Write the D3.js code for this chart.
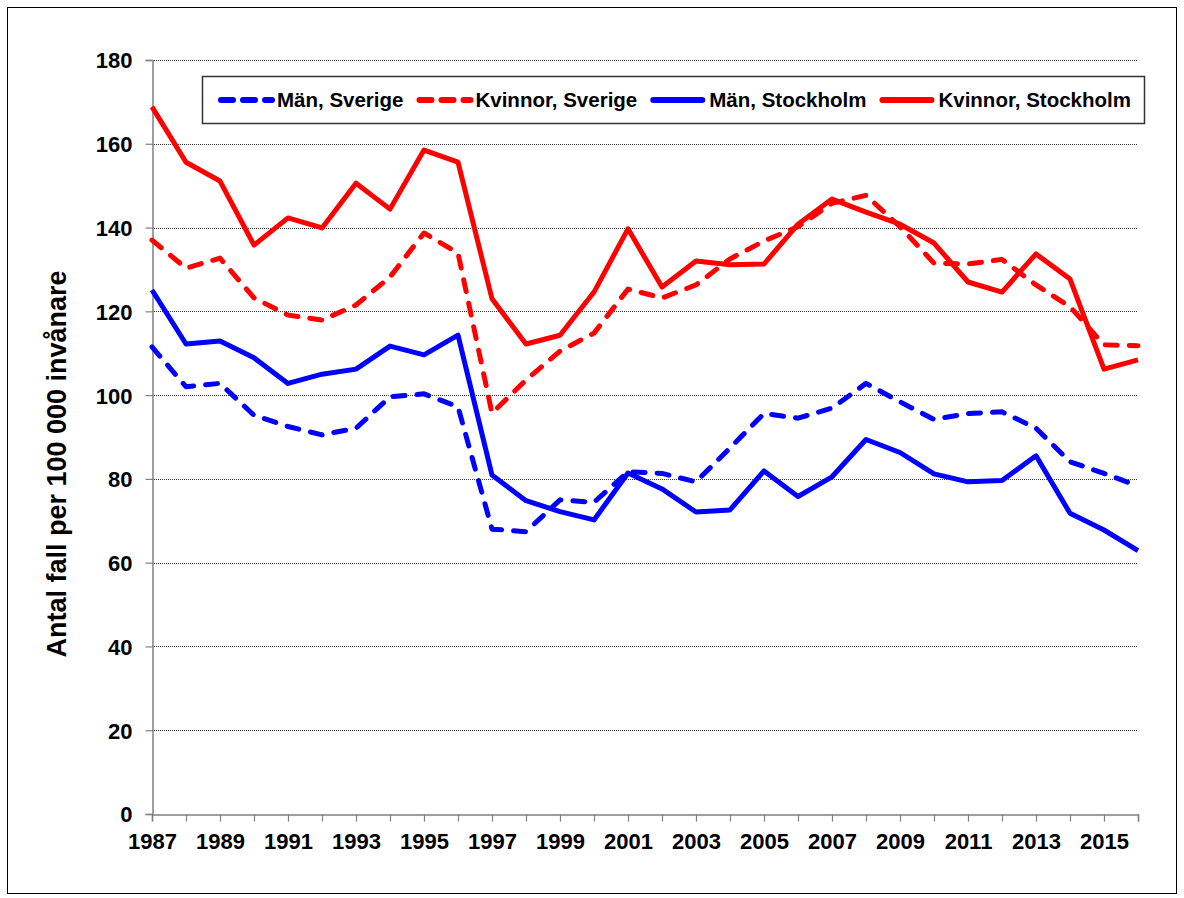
<!DOCTYPE html>
<html>
<head>
<meta charset="utf-8">
<script src="https://cdn.jsdelivr.net/npm/d3@7"></script>
<style>
  body { margin: 0; background: #fff; }
  svg { display: block; font-family: "Liberation Sans", Arial, sans-serif; font-weight: bold; }
</style>
</head>
<body>
<svg id="chart"></svg>
<script>
// Years on the x axis
const years = d3.range(1987, 2017);

// Values per 100 000 inhabitants
const manSverige = [111.5, 102.0, 102.8, 95.2, 92.5, 90.5, 92.1, 99.6, 100.3, 97.2,
  68.0, 67.4, 75.0, 74.4, 81.7, 81.3, 79.3, 87.4, 95.6, 94.5,
  96.9, 102.8, 98.4, 94.2, 95.6, 96.0, 92.1, 84.1, 81.3, 78.3];
const kvinnorSverige = [137.0, 130.3, 132.7, 123.2, 119.1, 117.9, 121.5, 128.2, 138.7, 133.9,
  95.7, 103.6, 110.5, 114.8, 125.3, 123.2, 126.3, 132.5, 136.8, 140.2,
  145.8, 147.7, 140.2, 131.5, 131.3, 132.4, 126.3, 121.1, 112.0, 111.8];
const manStockholm = [125.1, 112.2, 112.9, 108.9, 102.8, 105.0, 106.2, 111.7, 109.6, 114.3,
  80.9, 74.8, 72.2, 70.2, 81.4, 77.6, 72.1, 72.6, 81.9, 75.8,
  80.5, 89.4, 86.3, 81.2, 79.3, 79.6, 85.5, 71.8, 67.8, 62.9];
const kvinnorStockholm = [168.8, 155.6, 151.1, 135.8, 142.3, 139.9, 150.6, 144.4, 158.5, 155.6,
  123.0, 112.2, 114.3, 124.6, 139.7, 125.8, 132.0, 131.1, 131.3, 140.8,
  146.8, 143.7, 140.8, 136.3, 127.0, 124.6, 133.7, 127.7, 106.2, 108.4];

const seriesNames = ["Män, Sverige", "Kvinnor, Sverige", "Män, Stockholm", "Kvinnor, Stockholm"];
const yTicks = d3.range(0, 181, 20);
const yTitle = "Antal fall per 100 000 invånare";

const series = [
  { name: seriesNames[0], values: manSverige, color: "#0000ff", dashed: true },
  { name: seriesNames[1], values: kvinnorSverige, color: "#ff0000", dashed: true },
  { name: seriesNames[2], values: manStockholm, color: "#0000ff", dashed: false },
  { name: seriesNames[3], values: kvinnorStockholm, color: "#ff0000", dashed: false }
];

const width = 1184, height = 898;
const margin = { top: 60, right: 46, bottom: 84, left: 152 };

var svg = d3.select("#chart")
  .attr("width", width)
  .attr("height", height)
  .attr("viewBox", [0, 0, width, height]);

// outer frame
svg.append("rect")
  .attr("x", 7.5).attr("y", 7.5)
  .attr("width", 1169).attr("height", 886)
  .attr("fill", "#fff")
  .attr("stroke", "#000");

const x = d3.scalePoint()
  .domain(years)
  .range([margin.left, width - margin.right]);

const y = d3.scaleLinear()
  .domain([0, 180])
  .range([height - margin.bottom, margin.top]);

// dotted gridlines
svg.append("g")
  .selectAll("line")
  .data(yTicks.slice(1))
  .enter().append("line")
    .attr("x1", margin.left)
    .attr("x2", width - margin.right)
    .attr("y1", d => Math.round(y(d)) + 0.5)
    .attr("y2", d => Math.round(y(d)) + 0.5)
    .attr("stroke", "#333")
    .attr("stroke-dasharray", "1,1");

// y axis
const yAxis = svg.append("g")
  .attr("transform", `translate(${margin.left + 0.5},0)`)
  .call(d3.axisLeft(y).tickValues(yTicks).tickSize(7).tickPadding(13));

// x axis
const xAxis = svg.append("g")
  .attr("transform", `translate(0,${Math.round(y(0)) + 0.5})`)
  .call(d3.axisBottom(x).tickSize(7).tickPadding(12)
    .tickFormat(d => (d - 1987) % 2 === 0 ? d : ""));

[yAxis, xAxis].forEach(a => {
  a.select(".domain").attr("stroke", "#808080").attr("stroke-width", 1.5);
  a.selectAll(".tick line").attr("stroke", "#808080").attr("stroke-width", 1.2);
  a.selectAll("text")
    .attr("fill", "#000")
    .style("font", "bold 22px 'Liberation Sans', Arial, sans-serif");
});
yAxis.selectAll("text").attr("dy", "0.36em");
xAxis.selectAll("text").attr("dy", "0.72em");

// y axis title
svg.append("text")
  .attr("transform", "translate(66,464) rotate(-90)")
  .attr("text-anchor", "middle")
  .style("font-size", "27px")
  .text(yTitle);

// lines
const line = d3.line()
  .x((d, i) => x(years[i]))
  .y(d => y(d));

svg.append("g")
  .selectAll("path")
  .data(series)
  .enter().append("path")
    .attr("d", d => line(d.values))
    .attr("fill", "none")
    .attr("stroke", d => d.color)
    .attr("stroke-width", 5)
    .attr("stroke-linejoin", "round")
    .attr("stroke-linecap", d => d.dashed ? "round" : "butt")
    .attr("stroke-dasharray", d => d.dashed ? "12,12" : null);

// legend
const legend = svg.append("g");

legend.append("rect")
  .attr("x", 202.5).attr("y", 76.5)
  .attr("width", 942).attr("height", 47)
  .attr("fill", "#fff")
  .attr("stroke", "#333")
  .attr("stroke-width", 1.5);

let lx = 221;
series.forEach(s => {
  legend.append("line")
    .attr("x1", lx).attr("x2", s.dashed ? lx + 51 : lx + 49)
    .attr("y1", 100).attr("y2", 100)
    .attr("stroke", s.color)
    .attr("stroke-width", 6)
    .attr("stroke-linecap", "round")
    .attr("stroke-dasharray", s.dashed ? "12,10" : null);
  const t = legend.append("text")
    .attr("x", lx + 56)
    .attr("y", 100)
    .attr("dy", "0.36em")
    .style("font-size", "20.5px")
    .text(s.name);
  lx += 56 + t.node().getComputedTextLength() + 16;
});
</script>
</body>
</html>
